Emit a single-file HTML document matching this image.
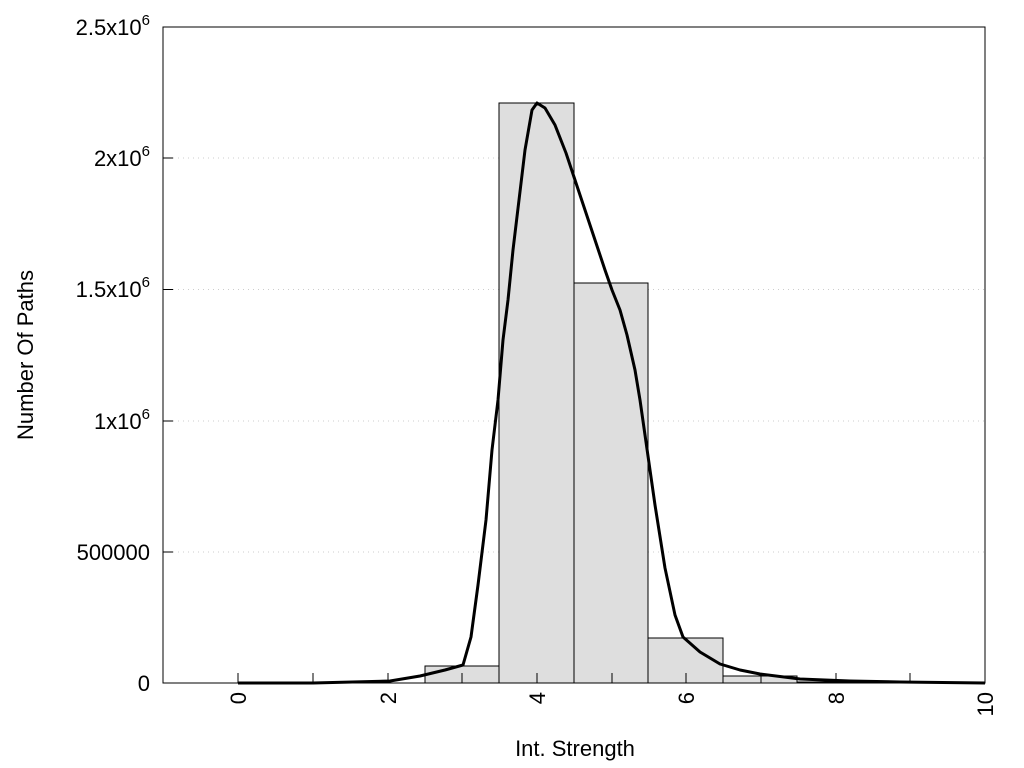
<!DOCTYPE html>
<html><head><meta charset="utf-8"><style>body{margin:0;background:#fff}svg{display:block}text{font-family:"Liberation Sans",sans-serif;font-size:22px;fill:#000}</style></head><body>
<svg width="1024" height="768" xmlns="http://www.w3.org/2000/svg">
<g stroke="#ccc" stroke-dasharray="1,4" stroke-width="1">
<line x1="163" y1="552" x2="985" y2="552"/><line x1="163" y1="421" x2="985" y2="421"/><line x1="163" y1="289.5" x2="985" y2="289.5"/><line x1="163" y1="158" x2="985" y2="158"/>
</g>
<g fill="#dedede" stroke="#000" stroke-width="1">
<rect x="238" y="682" width="75" height="1"/>
<rect x="425" y="666" width="74" height="17"/>
<rect x="499" y="103" width="75" height="580"/>
<rect x="574" y="283" width="74" height="400"/>
<rect x="648" y="638" width="75" height="45"/>
<rect x="723" y="676" width="74" height="7"/>
<rect x="797" y="682" width="75" height="1"/>
<rect x="872" y="682" width="75" height="1"/>
</g>
<g stroke="#000" stroke-width="1">
<line x1="238" y1="683" x2="238" y2="673"/><line x1="313" y1="683" x2="313" y2="673"/><line x1="388" y1="683" x2="388" y2="673"/><line x1="462" y1="683" x2="462" y2="673"/><line x1="537" y1="683" x2="537" y2="673"/><line x1="612" y1="683" x2="612" y2="673"/><line x1="686" y1="683" x2="686" y2="673"/><line x1="761" y1="683" x2="761" y2="673"/><line x1="836" y1="683" x2="836" y2="673"/><line x1="910" y1="683" x2="910" y2="673"/>
<line x1="163" y1="552" x2="173" y2="552"/><line x1="163" y1="421" x2="173" y2="421"/><line x1="163" y1="289.5" x2="173" y2="289.5"/><line x1="163" y1="158" x2="173" y2="158"/>
</g>
<polyline fill="none" stroke="#000" stroke-width="3" stroke-linejoin="round" points="238,683 313,683 390,681 420,676 445,670 463,665 471,637 478,585 486,520 492,450 498,400 503,340 508,300 513,250 519,200 525,150 532,110 537,103 545,108 555,125 566,153 575,180 585,210 595,240 605,270 612,290 620,310 627,335 635,370 640,400 645,435 655,505 665,568 675,615 683,637 700,652 720,664 740,670 760,674 800,679 850,681 900,682 985,683"/>
<rect x="163" y="27" width="822" height="656" fill="none" stroke="#000" stroke-width="1"/>
<g text-anchor="end">
<text x="150" y="691">0</text>
<text x="150" y="560">500000</text>
<text x="150" y="429">1x10<tspan dy="-10" font-size="15">6</tspan></text>
<text x="150" y="297">1.5x10<tspan dy="-10" font-size="15">6</tspan></text>
<text x="150" y="166">2x10<tspan dy="-10" font-size="15">6</tspan></text>
<text x="150" y="35">2.5x10<tspan dy="-10" font-size="15">6</tspan></text>
</g>
<g text-anchor="end">
<text transform="translate(246,692) rotate(-90)">0</text>
<text transform="translate(396,692) rotate(-90)">2</text>
<text transform="translate(545,692) rotate(-90)">4</text>
<text transform="translate(694,692) rotate(-90)">6</text>
<text transform="translate(844,692) rotate(-90)">8</text>
<text transform="translate(993,692) rotate(-90)">10</text>
</g>
<text x="575" y="756" text-anchor="middle">Int. Strength</text>
<text transform="translate(33,355) rotate(-90)" text-anchor="middle">Number Of Paths</text>
</svg>
</body></html>
